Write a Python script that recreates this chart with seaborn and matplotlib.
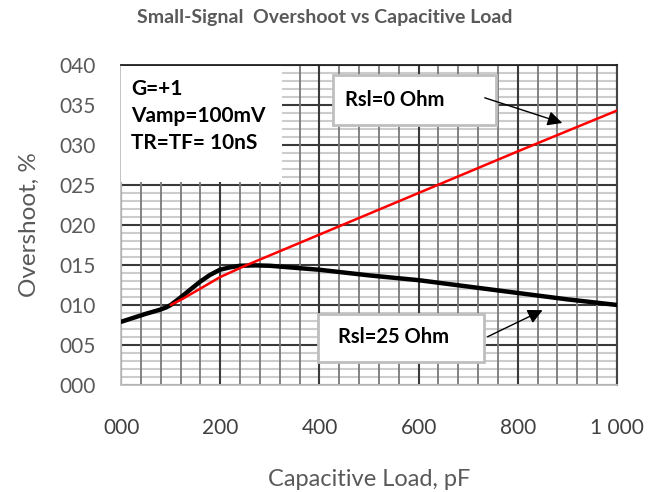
import matplotlib
matplotlib.use("Agg")
import matplotlib.pyplot as plt
from matplotlib.ticker import MultipleLocator, FixedLocator, FixedFormatter
from matplotlib.patches import Rectangle
import seaborn as sns
import pandas as pd

# ---- data ----
cap_black = [0, 25, 50, 78, 91, 100, 119, 139, 159, 179, 199, 219, 240, 270, 300,
             400, 500, 600, 700, 800, 900, 1000]
ovs_black = [7.9, 8.4, 8.9, 9.4, 9.7, 10.0, 10.9, 11.9, 12.9, 13.75, 14.4, 14.7, 14.9,
             14.95, 14.9, 14.4, 13.7, 13.1, 12.3, 11.5, 10.7, 10.0]
cap_red = [100, 125, 150, 175, 200, 250, 300, 400, 600, 800, 1000]
ovs_red = [10.0, 10.8, 11.7, 12.6, 13.5, 14.9, 16.2, 18.8, 24.0, 29.2, 34.3]
x_ticks = [0, 200, 400, 600, 800, 1000]
x_labels = ["000", "200", "400", "600", "800", "1 000"]
y_ticks = [0, 5, 10, 15, 20, 25, 30, 35, 40]
y_labels = ["000", "005", "010", "015", "020", "025", "030", "035", "040"]

df_black = pd.DataFrame({"cap": cap_black, "ovs": ovs_black})
df_red = pd.DataFrame({"cap": cap_red, "ovs": ovs_red})

sns.set_theme(style="white")
plt.rcParams["font.family"] = ["Lato", "DejaVu Sans"]

fig = plt.figure(figsize=(6.62, 4.92), dpi=100)
ax = fig.add_axes([0.183, 0.2175, 0.749, 0.6505])

sns.lineplot(data=df_black, x="cap", y="ovs", ax=ax, color="black", lw=3.2, zorder=4)
sns.lineplot(data=df_red, x="cap", y="ovs", ax=ax, color="#ff0000", lw=1.8, zorder=5)
for ln in ax.lines:
    ln.set_solid_joinstyle("round")
    ln.set_solid_capstyle("round")

ax.set_xlim(0, 1000)
ax.set_ylim(0, 40)
ax.xaxis.set_major_locator(FixedLocator(x_ticks))
ax.xaxis.set_major_formatter(FixedFormatter(x_labels))
ax.yaxis.set_major_locator(FixedLocator(y_ticks))
ax.yaxis.set_major_formatter(FixedFormatter(y_labels))
ax.xaxis.set_minor_locator(MultipleLocator(40))
ax.yaxis.set_minor_locator(MultipleLocator(1))

ax.grid(which="minor", axis="y", color="#cccccc", lw=1.5)
ax.grid(which="minor", axis="x", color="#7a7a7a", lw=1.3)
ax.grid(which="major", axis="y", color="#3a3a3a", lw=1.5)
ax.grid(which="major", axis="x", color="#3a3a3a", lw=1.5)
ax.set_axisbelow(True)
ax.yaxis.set_zorder(0.5)
ax.xaxis.set_zorder(0.6)

ax.tick_params(which="both", length=0)
ax.tick_params(axis="x", pad=24, labelsize=15, labelcolor="#404040")
ax.tick_params(axis="y", pad=18, labelsize=15, labelcolor="#595959")

for s in ["left", "bottom"]:
    ax.spines[s].set_color("#bfbfbf")
    ax.spines[s].set_linewidth(1.3)
ax.spines["top"].set_color("#222222")
ax.spines["right"].set_color("#444444")
ax.spines["top"].set_linewidth(1.3)
ax.spines["right"].set_linewidth(1.5)

ax.set_xlabel("Capacitive Load, pF", fontsize=17, color="#595959", labelpad=22)
ax.set_ylabel("Overshoot, %", fontsize=17.5, color="#595959", labelpad=14)

fig.text(0.49, 0.965, "Small-Signal  Overshoot vs Capacitive Load", ha="center", va="center",
         fontsize=14, fontweight="bold", color="#595959")

# white info box at top-left
ax.add_patch(Rectangle((0.0, 0.635), 0.325, 0.362, transform=ax.transAxes,
                       facecolor="white", edgecolor="none", zorder=3))
ax.text(0.02, 0.955, "G=+1\nVamp=100mV\nTR=TF= 10nS", transform=ax.transAxes,
        ha="left", va="top", fontsize=15, fontweight="bold", color="black",
        linespacing=1.42, zorder=6)

# Rsl=0 label box
ax.add_patch(Rectangle((0.427, 0.8125), 0.329, 0.156, transform=ax.transAxes,
                       facecolor="white", edgecolor="#bfbfbf", lw=2, zorder=6))
ax.text(0.452, 0.89, "Rsl=0 Ohm", transform=ax.transAxes, ha="left", va="center",
        fontsize=14.5, fontweight="bold", color="black", zorder=7)
ax.annotate("", xy=(0.895, 0.816), xytext=(0.728, 0.90), xycoords="axes fraction",
            arrowprops=dict(arrowstyle="-|>", color="black", lw=1.0, mutation_scale=22),
            zorder=7)

# Rsl=25 label box
ax.add_patch(Rectangle((0.397, 0.072), 0.335, 0.150, transform=ax.transAxes,
                       facecolor="white", edgecolor="#bfbfbf", lw=2, zorder=6))
ax.text(0.437, 0.15, "Rsl=25 Ohm", transform=ax.transAxes, ha="left", va="center",
        fontsize=14.5, fontweight="bold", color="black", zorder=7)
ax.annotate("", xy=(0.855, 0.2375), xytext=(0.734, 0.147), xycoords="axes fraction",
            arrowprops=dict(arrowstyle="-|>", color="black", lw=1.0, mutation_scale=22),
            zorder=7)

fig.savefig("out.png", dpi=100)
